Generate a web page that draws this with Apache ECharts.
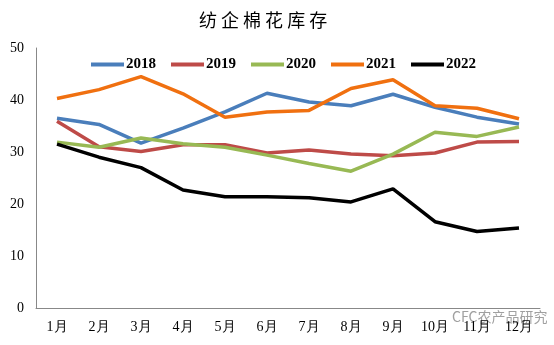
<!DOCTYPE html>
<html><head><meta charset="utf-8">
<script src="https://cdn.jsdelivr.net/npm/echarts@6/dist/echarts.min.js"></script>
<style>html,body{margin:0;padding:0;background:#fff}#c{width:554px;height:345px}</style>
</head><body><div id="c"></div>
<script>
const categories = ['1月','2月','3月','4月','5月','6月','7月','8月','9月','10月','11月','12月'];
const s2018 = [36.5, 35.3, 31.7, 34.6, 37.7, 41.3, 39.6, 38.9, 41.1, 38.6, 36.7, 35.4];
const s2019 = [35.9, 31.0, 30.1, 31.4, 31.4, 29.8, 30.4, 29.6, 29.3, 29.8, 31.9, 32.0];
const s2020 = [31.9, 30.9, 32.7, 31.6, 30.9, 29.4, 27.8, 26.3, 29.6, 33.8, 33.0, 34.8];
const s2021 = [40.3, 42.0, 44.5, 41.2, 36.7, 37.7, 38.0, 42.2, 43.9, 38.9, 38.4, 36.4];
const s2022 = [31.5, 29.0, 27.0, 22.7, 21.4, 21.4, 21.2, 20.4, 22.9, 16.6, 14.7, 15.4];
const seriesNames = ['2018','2019','2020','2021','2022'];
const colors = ['#4a7ebb','#be4b48','#98b954','#f07010','#000000'];
const data = [s2018, s2019, s2020, s2021, s2022];
const serif = '"Liberation Serif","DejaVu Serif",serif';
const chart = echarts.init(document.getElementById('c'));
chart.setOption({
  animation:false,
  backgroundColor:'#fff',
  title:{text:'纺 企 棉 花 库 存',left:194,top:6,textStyle:{fontFamily:'"Noto Sans CJK SC"',fontSize:18,fontWeight:'normal',color:'#000'}},
  legend:{top:52,left:86,itemWidth:33,itemHeight:4,itemGap:15,icon:'rect',
    textStyle:{fontFamily:serif,fontSize:15,fontWeight:'bold',color:'#000',padding:[0,0,0,-3]},
    data:seriesNames},
  grid:{left:36,right:14,top:48,bottom:37,containLabel:false},
  xAxis:{type:'category',data:categories,boundaryGap:true,
    axisLine:{lineStyle:{color:'#888',width:1}},axisTick:{show:false},
    axisLabel:{fontFamily:serif,fontSize:14,color:'#000',margin:12}},
  yAxis:{type:'value',min:0,max:50,interval:10,
    axisLine:{show:true,lineStyle:{color:'#888',width:1}},axisTick:{show:false},splitLine:{show:false},
    axisLabel:{fontFamily:serif,fontSize:14,color:'#000',margin:12}},
  graphic:[{type:'text',left:452,top:310,style:{text:'CFC农产品研究',fill:'rgba(120,120,120,0.7)',font:'14px "Noto Sans CJK SC"'}}],
  series:data.map((d,i)=>({name:seriesNames[i],type:'line',data:d,symbol:'none',
    lineStyle:{width:3.5,color:colors[i]},itemStyle:{color:colors[i]}}))
});
</script></body></html>
